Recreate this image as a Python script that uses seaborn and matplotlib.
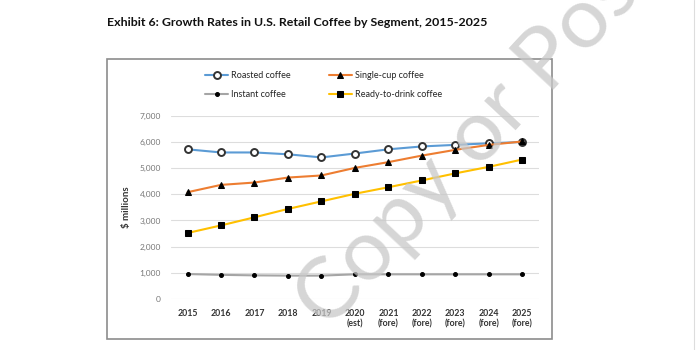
import pandas as pd
import seaborn as sns
import matplotlib.pyplot as plt
from matplotlib.patches import Rectangle
from matplotlib.lines import Line2D

# ---------------------------------------------
# Data (read off the exhibit, $ millions)
# ---------------------------------------------
years = ["2015", "2016", "2017", "2018", "2019", "2020\n(est)", "2021\n(fore)",
         "2022\n(fore)", "2023\n(fore)", "2024\n(fore)", "2025\n(fore)"]
roasted = [5720, 5600, 5600, 5530, 5410, 5560, 5720, 5830, 5890, 5950, 6000]
single_cup = [4080, 4360, 4450, 4640, 4720, 5010, 5230, 5480, 5700, 5890, 6020]
instant = [950, 920, 900, 890, 890, 940, 940, 940, 940, 940, 940]
ready_to_drink = [2520, 2810, 3120, 3440, 3730, 4020, 4270, 4530, 4800, 5050, 5330]

series = {
    "Roasted coffee": roasted,
    "Instant coffee": instant,
    "Single-cup coffee": single_cup,
    "Ready-to-drink coffee": ready_to_drink,
}

df = pd.DataFrame(series)
df["pos"] = range(len(years))

sns.set_style("white")
plt.rcParams["font.family"] = ["Lato", "DejaVu Sans"]

fig = plt.figure(figsize=(7, 3.5), dpi=100)
ax = fig.add_axes([0.244, 0.146, 0.526, 0.523])

# ---------------------------------------------
# Lines
# ---------------------------------------------
styles = {
    "Roasted coffee": dict(color="#5B9BD5", marker="o", markersize=5,
                           markerfacecolor="white", markeredgecolor="#333333",
                           markeredgewidth=1.4),
    "Instant coffee": dict(color="#A5A5A5", marker="o", markersize=2.8,
                           markerfacecolor="black", markeredgecolor="black"),
    "Single-cup coffee": dict(color="#ED7D31", marker="^", markersize=3.8,
                              markerfacecolor="black", markeredgecolor="black"),
    "Ready-to-drink coffee": dict(color="#FFC000", marker="s", markersize=5,
                                  markerfacecolor="black", markeredgecolor="black"),
}

for name, st in styles.items():
    sns.lineplot(data=df, x="pos", y=name, ax=ax, linewidth=1.5,
                 label=name, **st)

ax.set_xlim(-0.5, len(years) - 0.5)
ax.set_ylim(0, 7000)
ax.set_yticks(range(0, 7001, 1000))
ax.set_yticklabels([f"{v:,}" for v in range(0, 7001, 1000)],
                   fontsize=6, color="#777777")
ax.set_xticks(range(len(years)))
ax.set_xticklabels(years, fontsize=6.3, fontweight="bold", color="#333333",
                   linespacing=1.3)
ax.tick_params(length=0, pad=7)
ax.grid(axis="y", color="#dddddd", linewidth=0.8)
ax.set_axisbelow(True)
for s in ax.spines.values():
    s.set_visible(False)
ax.set_xlabel("")
ax.set_ylabel("$ millions", fontsize=7, fontweight="bold", color="#333333",
              labelpad=6)

ax.get_legend().remove()
handles, labels = ax.get_legend_handles_labels()
fig.legend(handles, labels, ncol=2, loc="center", bbox_to_anchor=(0.462, 0.757),
           frameon=False, fontsize=6.5, handlelength=2.6, columnspacing=4.2,
           labelspacing=1.05, handletextpad=0.3)

# Title and chart frame
fig.text(0.153, 0.925, "Exhibit 6: Growth Rates in U.S. Retail Coffee by Segment, 2015-2025",
         fontsize=8.9, fontweight="bold", color="#111111")
fig.patches.append(Rectangle((0.153, 0.031), 0.636, 0.80, transform=fig.transFigure,
                             fill=False, edgecolor="#8c8c8c", linewidth=1.2))
fig.lines.append(Line2D([0.992, 0.992], [0, 1], transform=fig.transFigure,
                        color="#dddddd", linewidth=0.8))

# Watermark
fig.text(0.683, 0.614, "Copy or Post", fontsize=62, color="#c8c8c8",
         alpha=0.75, rotation=47, ha="center", va="center",
         rotation_mode="anchor", zorder=10)

plt.savefig("out.png", dpi=100)
